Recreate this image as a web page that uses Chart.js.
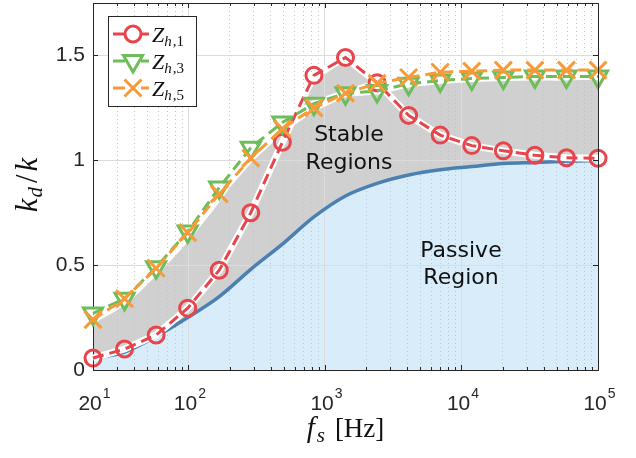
<!DOCTYPE html>
<html><head><meta charset="utf-8">
<script src="https://cdn.jsdelivr.net/npm/chart.js@4/dist/chart.umd.min.js"></script>
<style>html,body{margin:0;padding:0;background:#fff}#wrap{width:636px;height:458px}</style>
</head><body><div id="wrap"><canvas id="c" width="636" height="458"></canvas></div>
<script>
// ---- data ----
const freqs = [20, 34.05, 58.0, 98.76, 168.2, 286.3, 487.6, 830.4, 1414, 2408, 4102, 6985, 11895, 20258, 34500, 58754, 100000];
const zh1 = [0.057, 0.10, 0.167, 0.295, 0.476, 0.75, 1.086, 1.405, 1.49, 1.37, 1.214, 1.12, 1.07, 1.045, 1.024, 1.012, 1.01];
const zh3 = [0.27, 0.34, 0.49, 0.66, 0.87, 1.06, 1.18, 1.27, 1.32, 1.33, 1.365, 1.38, 1.39, 1.395, 1.40, 1.40, 1.40];
const zh5 = [0.24, 0.34, 0.485, 0.655, 0.84, 1.01, 1.15, 1.25, 1.32, 1.367, 1.395, 1.42, 1.425, 1.43, 1.43, 1.43, 1.43];
const passive = [0.055, 0.085, 0.16, 0.25, 0.35, 0.48, 0.60, 0.73, 0.83, 0.89, 0.93, 0.955, 0.97, 0.985, 0.99, 0.995, 1.0];
const stableTop = [0.22, 0.31, 0.45, 0.61, 0.80, 1.00, 1.13, 1.36, 1.46, 1.36, 1.37, 1.38, 1.38, 1.38, 1.38, 1.38, 1.39];
const xTickValues = [20, 100, 1000, 10000, 100000];
const xTickBases = ['20', '10', '10', '10', '10'];
const xTickExps = ['1', '2', '3', '4', '5'];
const xMinorValues = [30, 40, 50, 60, 70, 80, 90, 200, 300, 400, 500, 600, 700, 800, 900,
  2000, 3000, 4000, 5000, 6000, 7000, 8000, 9000, 20000, 30000, 40000, 50000, 60000, 70000, 80000, 90000];
const yTickValues = [0, 0.5, 1, 1.5];
const yTickLabels = ['0', '0.5', '1', '1.5'];
const seriesNames = ['h,1', 'h,3', 'h,5'];

// ---- styles ----
const RED = '#e8444c', GREEN = '#6dbd5a', ORANGE = '#f79b38', BLUE = '#4b80b2';
const AXIS = '#262626';
const DASH = [11, 6];
const pts = d => freqs.map((f, i) => ({x: f, y: d[i]}));
const halo = d => ({data: pts(d), borderColor: '#ffffff', borderWidth: 7, pointRadius: 0, fill: false, order: 8});

const extras = {
  id: 'extras',
  afterDraw(chart) {
    const ctx = chart.ctx, a = chart.chartArea, xs = chart.scales.x, ys = chart.scales.y;
    ctx.save();
    // box & inward ticks
    ctx.strokeStyle = AXIS; ctx.lineWidth = 1;
    ctx.beginPath();
    ctx.moveTo(a.left, a.top + 0.5); ctx.lineTo(a.right + 0.5, a.top + 0.5); ctx.lineTo(a.right + 0.5, a.bottom);
    const allX = xTickValues.concat(xMinorValues);
    allX.forEach(v => {
      const px = Math.round(xs.getPixelForValue(v)) + 0.5;
      const L = xTickValues.includes(v) ? 5 : 3;
      ctx.moveTo(px, a.bottom); ctx.lineTo(px, a.bottom - L);
      ctx.moveTo(px, a.top); ctx.lineTo(px, a.top + L);
    });
    yTickValues.forEach(v => {
      const py = Math.round(ys.getPixelForValue(v)) + 0.5;
      ctx.moveTo(a.left, py); ctx.lineTo(a.left + 5, py);
      ctx.moveTo(a.right, py); ctx.lineTo(a.right - 5, py);
    });
    ctx.stroke();

    // x tick labels (base + exponent)
    ctx.fillStyle = AXIS; ctx.textBaseline = 'alphabetic'; ctx.textAlign = 'left';
    xTickValues.forEach((v, i) => {
      const px = xs.getPixelForValue(v);
      ctx.font = '21px "Liberation Sans"';
      const bw = ctx.measureText(xTickBases[i]).width;
      ctx.font = '14px "Liberation Sans"';
      const ew = ctx.measureText(xTickExps[i]).width;
      const x0 = px - (bw + ew) / 2 + 1;
      ctx.font = '21px "Liberation Sans"';
      ctx.fillText(xTickBases[i], x0, a.bottom + 40);
      ctx.font = '14px "Liberation Sans"';
      ctx.fillText(xTickExps[i], x0 + bw + 1, a.bottom + 28);
    });

    // annotations
    ctx.fillStyle = '#111';
    ctx.font = '22px "DejaVu Sans"';
    ctx.textAlign = 'center'; ctx.textBaseline = 'middle';
    ctx.fillText('Stable', 349, 135);
    ctx.fillText('Regions', 349, 163);
    ctx.fillText('Passive', 461, 251);
    ctx.fillText('Region', 461, 278);

    // legend
    ctx.fillStyle = '#fff';
    ctx.fillRect(108, 16, 88, 90);
    ctx.strokeStyle = AXIS; ctx.lineWidth = 1;
    ctx.strokeRect(108.5, 16.5, 88, 90);
    const cols = [RED, GREEN, ORANGE];
    const rowsY = [34, 61, 88];
    rowsY.forEach((ry, i) => {
      ctx.strokeStyle = cols[i]; ctx.lineWidth = 3; ctx.setLineDash([]);
      ctx.beginPath();
      ctx.moveTo(113, ry); ctx.lineTo(125, ry);
      ctx.moveTo(141, ry); ctx.lineTo(149, ry);
      ctx.stroke();
      drawMarker(ctx, i, 133, ry);
      ctx.fillStyle = '#111';
      ctx.textAlign = 'left'; ctx.textBaseline = 'alphabetic';
      ctx.font = 'italic 22px "Liberation Serif"';
      ctx.fillText('Z', 152, ry + 8);
      const zw = ctx.measureText('Z').width;
      ctx.font = 'italic 15px "Liberation Serif"';
      ctx.fillText('h', 152 + zw, ry + 12);
      const hw = ctx.measureText('h').width;
      ctx.font = '15px "Liberation Serif"';
      ctx.fillText(seriesNames[i].slice(1), 152 + zw + hw + 1, ry + 12);
    });

    // y title: k_d/k
    ctx.save();
    ctx.translate(37, 185);
    ctx.rotate(-Math.PI / 2);
    ctx.fillStyle = '#111';
    ctx.textAlign = 'left'; ctx.textBaseline = 'alphabetic';
    const parts = [
      ['italic 31px "Liberation Serif"', 'k', 0, 1],
      ['italic 21px "Liberation Serif"', 'd', 5, 4],
      ['31px "Liberation Serif"', '/', 0, 3],
      ['italic 31px "Liberation Serif"', 'k', 0, 0]
    ];
    let tot = 0;
    parts.forEach(p => { ctx.font = p[0]; tot += ctx.measureText(p[1]).width + p[3]; });
    let cx = -tot / 2;
    parts.forEach(p => { ctx.font = p[0]; ctx.fillText(p[1], cx, p[2]); cx += ctx.measureText(p[1]).width + p[3]; });
    ctx.restore();

    // x title: f_s [Hz]
    const xparts = [
      ['italic 29px "Liberation Serif"', 'f', 0, 2],
      ['italic 21px "Liberation Serif"', 's', 5, 10],
      ['27px "Liberation Serif"', '[Hz]', 0, 0]
    ];
    let xt = 0;
    xparts.forEach(p => { ctx.font = p[0]; xt += ctx.measureText(p[1]).width + p[3]; });
    let xx = (a.left + a.right) / 2 - xt / 2;
    ctx.fillStyle = '#111'; ctx.textAlign = 'left'; ctx.textBaseline = 'alphabetic';
    xparts.forEach(p => { ctx.font = p[0]; ctx.fillText(p[1], xx, 437 + p[2]); xx += ctx.measureText(p[1]).width + p[3]; });
    ctx.restore();
  }
};

function drawMarker(ctx, kind, x, y) {
  ctx.save();
  ctx.setLineDash([]);
  ctx.lineWidth = 3;
  if (kind === 0) {
    ctx.strokeStyle = RED; ctx.beginPath(); ctx.arc(x, y, 8, 0, Math.PI * 2); ctx.stroke();
  } else if (kind === 1) {
    ctx.strokeStyle = GREEN; ctx.beginPath();
    const r = 11;
    ctx.moveTo(x, y + r); ctx.lineTo(x - r * 0.866, y - r * 0.5); ctx.lineTo(x + r * 0.866, y - r * 0.5); ctx.closePath(); ctx.stroke();
  } else {
    ctx.strokeStyle = ORANGE; ctx.beginPath();
    const d = 8.5;
    ctx.moveTo(x - d, y - d); ctx.lineTo(x + d, y + d); ctx.moveTo(x + d, y - d); ctx.lineTo(x - d, y + d); ctx.stroke();
  }
  ctx.restore();
}

new Chart(document.getElementById('c'), {
  type: 'line',
  data: {
    datasets: [
      {label: 'Stable', data: pts(stableTop), borderWidth: 0, borderColor: 'rgba(0,0,0,0)', pointRadius: 0,
        fill: 1, backgroundColor: '#d0d0d0', tension: 0.3, order: 10},
      {label: 'Passive', data: pts(passive), borderColor: BLUE, borderWidth: 3.5, pointRadius: 0,
        fill: 'origin', backgroundColor: '#d8edf9', cubicInterpolationMode: 'monotone', order: 9},
      halo(zh1), halo(zh3), halo(zh5),
      {label: 'Z_h,1', data: pts(zh1), borderColor: RED, borderWidth: 3, borderDash: DASH, fill: false, clip: false,
        pointStyle: 'circle', pointRadius: 8, pointBorderWidth: 3, pointBorderColor: RED, pointBackgroundColor: 'rgba(0,0,0,0)', order: 3},
      {label: 'Z_h,3', data: pts(zh3), borderColor: GREEN, borderWidth: 3, borderDash: DASH, fill: false, clip: false,
        pointStyle: 'triangle', pointRotation: 180, pointRadius: 11, pointBorderWidth: 3, pointBorderColor: GREEN, pointBackgroundColor: 'rgba(0,0,0,0)', order: 2},
      {label: 'Z_h,5', data: pts(zh5), borderColor: ORANGE, borderWidth: 3, borderDash: DASH, fill: false, clip: false,
        pointStyle: 'crossRot', pointRadius: 12, pointBorderWidth: 3, pointBorderColor: ORANGE, pointBackgroundColor: 'rgba(0,0,0,0)', order: 1}
    ]
  },
  options: {
    responsive: false, animation: false, devicePixelRatio: 1,
    layout: {autoPadding: false, padding: {top: 3, right: 38, left: 0, bottom: 0}},
    plugins: {legend: {display: false}, tooltip: {enabled: false}, filler: {drawTime: 'beforeDraw'}},
    scales: {
      x: {
        type: 'logarithmic', min: 20, max: 100000,
        afterBuildTicks: s => { s.ticks = xTickValues.concat(xMinorValues).sort((p, q) => p - q).map(v => ({value: v})); },
        afterFit: s => { s.height = 88; s.paddingLeft = 0; s.paddingRight = 0; },
        ticks: {autoSkip: false, maxRotation: 0, minRotation: 0, padding: 18, color: AXIS,
          font: {family: 'Liberation Sans', size: 21}, callback: () => ''},
        grid: {drawTicks: false, lineWidth: 1,
          color: c => { const v = c.tick ? c.tick.value : null; if (v === 20 || v === 100000) return 'rgba(0,0,0,0)'; return xTickValues.includes(v) ? '#dcdcdc' : '#c4c4c4'; }},
        border: {color: AXIS, width: 1, dash: c => (c.tick && !xTickValues.includes(c.tick.value)) ? [1, 3] : []}
      },
      y: {
        min: 0, max: 1.75,
        afterBuildTicks: s => { s.ticks = yTickValues.map(v => ({value: v})); },
        afterFit: s => { s.width = 93; s.paddingTop = 0; s.paddingBottom = 0; },
        ticks: {padding: 8, color: AXIS, font: {family: 'Liberation Sans', size: 21, lineHeight: 0.2},
          callback: v => { const i = yTickValues.indexOf(v); return i >= 0 ? yTickLabels[i] : ''; }},
        grid: {drawTicks: false, lineWidth: 1, color: c => (c.tick && c.tick.value === 0) ? 'rgba(0,0,0,0)' : '#dcdcdc'},
        border: {color: AXIS, width: 1}
      }
    }
  },
  plugins: [extras]
});
</script></body></html>
